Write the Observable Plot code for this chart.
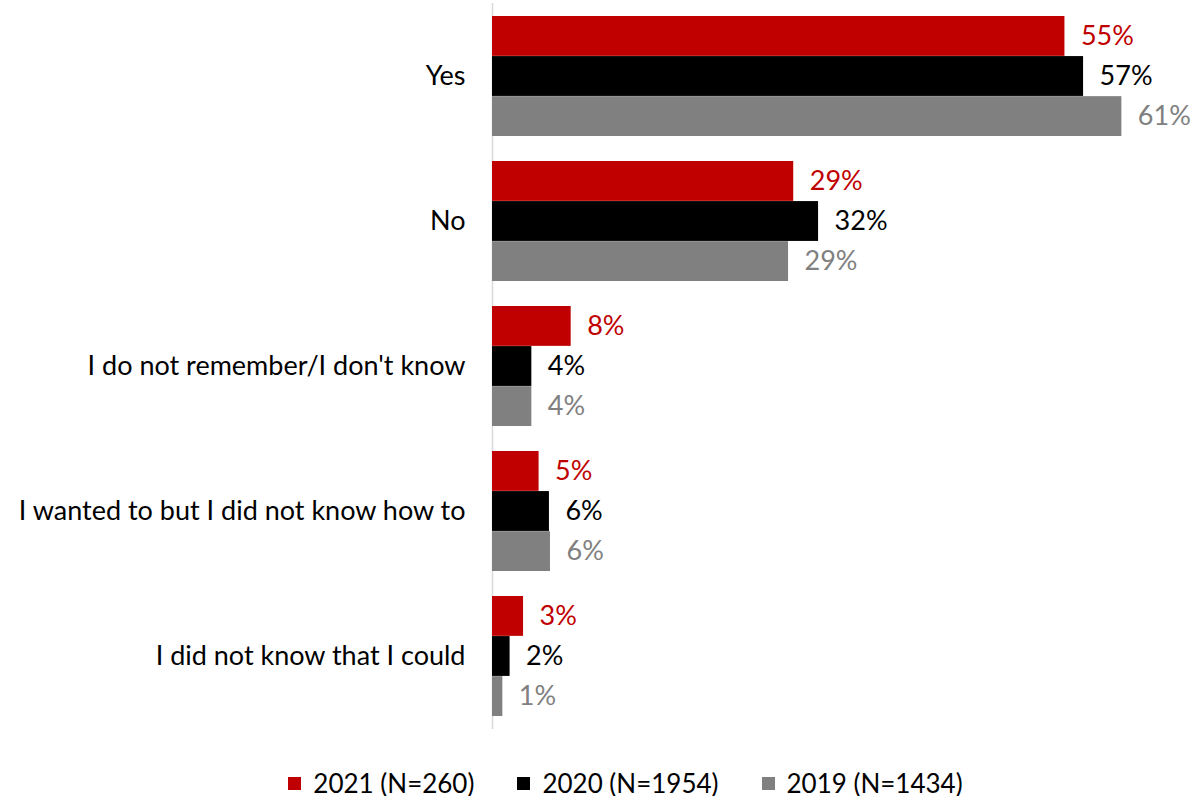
<!DOCTYPE html>
<html>
<head>
<meta charset="utf-8">
<script src="https://cdn.jsdelivr.net/npm/d3@7"></script>
<script src="https://cdn.jsdelivr.net/npm/@observablehq/plot@0.6"></script>
<style>
  body { margin: 0; background: #fff; font-family: Lato, "Open Sans", sans-serif; }
  #chart { width: 1199px; }
  .legend { display: flex; justify-content: center; align-items: center; gap: 43px; margin-top: 20px; padding-left: 52px; font-size: 26px; line-height: 26px; color: #000; }
  .legend .item { display: flex; align-items: center; gap: 12px; }
  .legend .sw { width: 13px; height: 13px; display: inline-block; }
</style>
</head>
<body>
<div id="chart"></div>
<script>
const categories = ["Yes", "No", "I do not remember/I don't know", "I wanted to but I did not know how to", "I did not know that I could"];
const series = ["2021 (N=260)", "2020 (N=1954)", "2019 (N=1434)"];
const values2021 = [55.3, 29.1, 7.6, 4.5, 3.0];
const values2020 = [57.1, 31.5, 3.8, 5.5, 1.7];
const values2019 = [60.8, 28.6, 3.8, 5.6, 1.0];
const labels2021 = ["55%", "29%", "8%", "5%", "3%"];
const labels2020 = ["57%", "32%", "4%", "6%", "2%"];
const labels2019 = ["61%", "29%", "4%", "6%", "1%"];
const colors = ["#C00000", "#000000", "#808080"];

const allValues = [values2021, values2020, values2019];
const allLabels = [labels2021, labels2020, labels2019];

const W = 1199, H = 750, mTop = 3, mBottom = 21, mLeft = 492;
const padInner = 0.172;
const step = (H - mTop - mBottom) / categories.length;
const bw = step * (1 - padInner);
const third = bw / 3;

const rows = series.map((s, si) => categories.map((c, ci) => ({
  category: c, series: s, value: allValues[si][ci], label: allLabels[si][ci], color: colors[si]
})));

const marks = [Plot.ruleX([0], {stroke: "#d9d9d9", strokeWidth: 1.5})];
rows.forEach((data, si) => {
  marks.push(Plot.barX(data, {
    y: "category", x: "value", fill: colors[si],
    insetTop: si * third, insetBottom: (2 - si) * third
  }));
  marks.push(Plot.text(data, {
    y: "category", x: "value", text: "label", fill: colors[si],
    dy: (si - 1) * third, dx: 16, textAnchor: "start", fontSize: 27
  }));
});

const chart = Plot.plot({
  width: W, height: H,
  marginTop: mTop, marginBottom: mBottom, marginLeft: mLeft, marginRight: 0,
  style: {fontFamily: "Lato, 'Open Sans', sans-serif", fontSize: "27px", color: "#000", background: "#fff"},
  x: {domain: [0, 68.3], axis: null},
  y: {domain: categories, paddingInner: padInner, paddingOuter: padInner / 2, label: null, tickSize: 0, tickPadding: 27},
  marks
});
document.getElementById("chart").appendChild(chart);

const legend = document.createElement("div");
legend.className = "legend";
series.forEach((s, i) => {
  const item = document.createElement("div");
  item.className = "item";
  const sw = document.createElement("span");
  sw.className = "sw";
  sw.style.background = colors[i];
  const t = document.createElement("span");
  t.textContent = s;
  item.appendChild(sw);
  item.appendChild(t);
  legend.appendChild(item);
});
document.getElementById("chart").appendChild(legend);
</script>
</body>
</html>
